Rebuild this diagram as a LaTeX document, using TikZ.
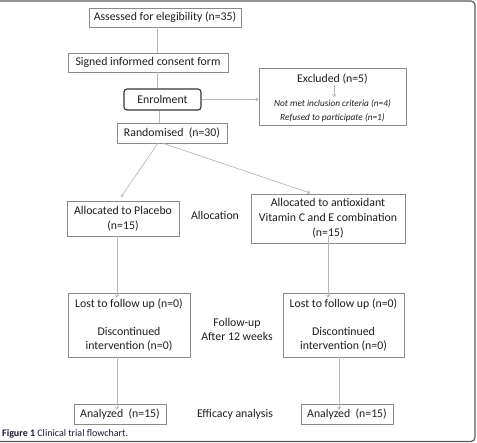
\documentclass[tikz,border=0pt]{standalone}
\usepackage{fontspec}
\setmainfont{Carlito}
\usetikzlibrary{arrows.meta}
\definecolor{boxline}{HTML}{8A8A8A}
\definecolor{conline}{HTML}{B4B8C2}
\definecolor{txt}{HTML}{1E1E1E}
\definecolor{frameline}{HTML}{5A5A5A}
\tikzset{
  box/.style={draw=boxline, line width=0.8pt, fill=white, inner sep=0pt, align=center, font=\fontsize{11.8}{14.8}\selectfont, text=txt},
  enrolbox/.style={draw=black!80, line width=1.1pt, rounded corners=3pt, fill=white, inner sep=0pt, align=center, font=\fontsize{11.8}{14}\selectfont, text=txt},
  lbl/.style={inner sep=0pt, align=center, font=\fontsize{11.8}{14}\selectfont, text=txt},
  conn/.style={draw=conline, line width=0.7pt},
  arr/.style={conn, -{To[length=3pt,width=4pt]}},
  frame/.style={draw=frameline, line width=1.2pt, rounded corners=4pt}
}
\begin{document}
\begin{tikzpicture}[x=1pt,y=-1pt]
\useasboundingbox (0,0) rectangle (477,443);
\draw[frame] (0,1) -- (475,1) -- (475,441.5) -- (0,441.5);

\coordinate (sp) at (157,0);
\coordinate (sp2) at (159,0);

% main column
\node[box, minimum width=152pt, minimum height=19pt] (assess) at (165,17.5) {Assessed for elegibility (n=35)};
\node[box, minimum width=160pt, minimum height=19pt] (signed) at (148,62.5) {Signed informed consent form};
\node[enrolbox, minimum width=77pt, minimum height=21pt] (enrol) at (162.5,99.5) {Enrolment};
\node[box, minimum width=110pt, minimum height=20pt] (rand) at (172,133) {Randomised\ \ (n=30)};

% excluded
\node[box, minimum width=147pt, minimum height=57pt] (excl) at (332.5,96.5) {};
\node[lbl] (exclt) at (332.5,79) {Excluded (n=5)};
\node[lbl, font=\fontsize{9.3}{14}\selectfont\itshape] (exclr) at (332.5,111) {Not met inclusion criteria (n=4)\\Refused to participate (n=1)};
\coordinate (ea) at (334,85);
\coordinate (eb) at (334,97);

% allocation
\node[box, minimum width=112pt, minimum height=35pt] (plac) at (123,218.5) {Allocated to Placebo\\(n=15)};
\node[box, minimum width=154pt, minimum height=49pt] (anti) at (328,218.5) {Allocated to antioxidant\\Vitamin C and E combination\\(n=15)};
\node[lbl] (alloc) at (215,215) {Allocation};

% follow-up
\node[box, font=\fontsize{11.8}{14}\selectfont, minimum width=122pt, minimum height=64pt] (lostL) at (129,325) {Lost to follow up (n=0)\\[14pt]Discontinued\\intervention (n=0)};
\node[box, font=\fontsize{11.8}{14}\selectfont, minimum width=121pt, minimum height=64pt] (lostR) at (343.5,325) {Lost to follow up (n=0)\\[14pt]Discontinued\\intervention (n=0)};
\node[lbl] (follow) at (237,329) {Follow-up\\After 12 weeks};

% analysis
\node[box, minimum width=92pt, minimum height=20pt] (anaL) at (120,414) {Analyzed\ \ (n=15)};
\node[box, minimum width=92pt, minimum height=20pt] (anaR) at (347,414) {Analyzed\ \ (n=15)};
\node[lbl] (eff) at (235,414) {Efficacy analysis};

% caption
\node[anchor=west, inner sep=0pt, font=\fontsize{10}{11}\selectfont, text=txt!90!blue] (cap) at (2,434) {\textbf{Figure 1} Clinical trial flowchart.};

% connectors
\draw[conn] (assess.south -| sp) -- (signed.north -| sp);
\draw[conn] (signed.south -| sp) -- (enrol.north -| sp);
\draw[conn] (enrol.south -| sp2) -- (rand.north -| sp2);
\draw[arr] (enrol.east) -- (excl.west |- enrol.east);
\draw[arr] (ea) -- (eb);

\coordinate (r1) at (158,143);
\coordinate (r2) at (162,143);
\coordinate (p1) at (121,197);
\coordinate (a1) at (310,193);
\draw[arr] (r1) -- (p1);
\draw[arr] (r2) -- (a1);

\coordinate (c1) at (117,0);
\coordinate (c2) at (328,0);
\coordinate (c3) at (339,0);
\draw[arr] (plac.south -| c1) -- ([yshift=-5pt]lostL.north -| c1);
\draw[arr] ([yshift=7pt]anti.south -| c2) -- ([yshift=-5pt]lostR.north -| c2);
\draw[arr] (lostL.south -| c1) -- ([yshift=-6pt]anaL.north -| c1);
\draw[arr] (lostR.south -| c3) -- ([yshift=-6pt]anaR.north -| c3);
\end{tikzpicture}
\end{document}
